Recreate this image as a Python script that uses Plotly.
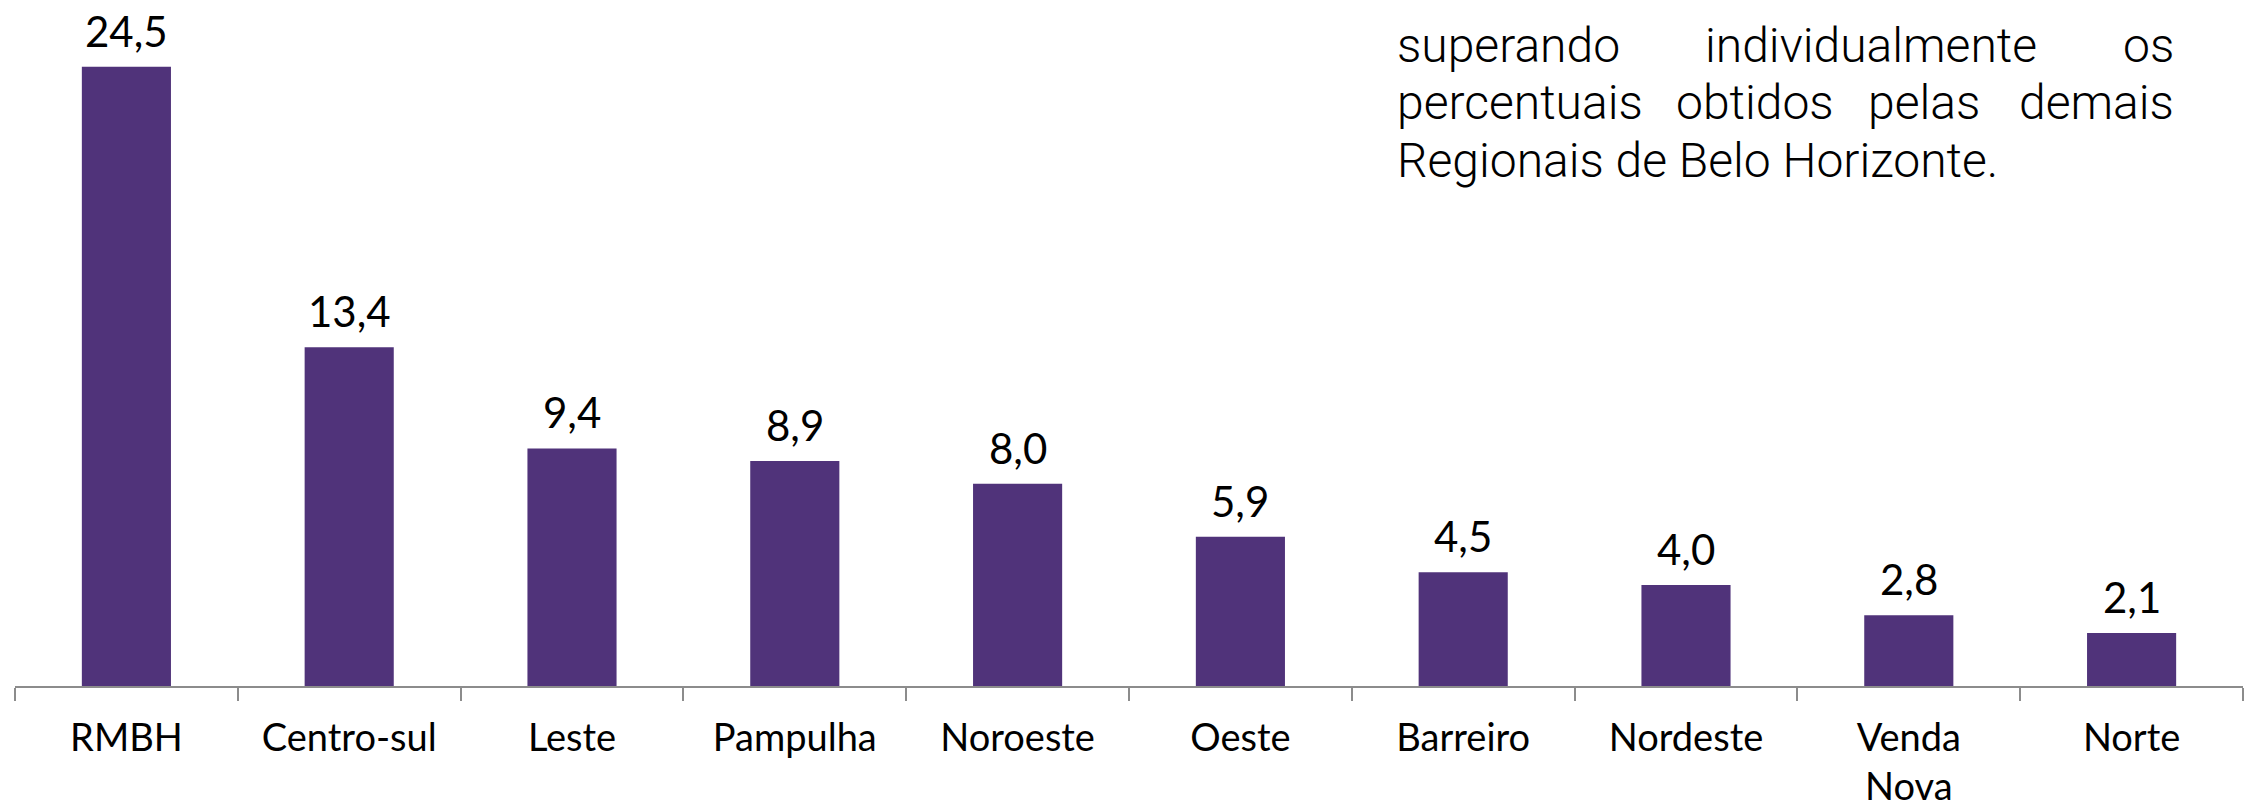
import plotly.graph_objects as go

categories = ["RMBH", "Centro-sul", "Leste", "Pampulha", "Noroeste", "Oeste",
              "Barreiro", "Nordeste", "Venda<br>Nova", "Norte"]
values = [24.5, 13.4, 9.4, 8.9, 8.0, 5.9, 4.5, 4.0, 2.8, 2.1]
value_labels = [f"{v:.1f}".replace(".", ",") for v in values]

bar_color = "#50337A"
W, H = 2252, 810
ML, MR, MT, MB = 15, 9, 0, 124

fig = go.Figure(go.Bar(
    x=categories, y=values,
    marker=dict(color=bar_color, line=dict(width=0)),
    width=0.4,
    hoverinfo="skip",
))

pw = W - ML - MR
ph = H - MT - MB

def px_x(p):
    return (p - ML) / pw

def px_y(p):
    return (H - MB - p) / ph

annots = []
# value labels above bars
for c, v, t in zip(categories, values, value_labels):
    annots.append(dict(text=t, x=c, y=v, xref="x", yref="y", xanchor="center",
                       yanchor="bottom", yshift=9, showarrow=False,
                       font=dict(family="Lato", size=42, color="#000000")))

para_font = dict(family="Roboto", size=48, color="#000000", weight=300)
words = [
    ("superando", 1395, 57, "left"),
    ("individualmente", 1871, 57, "center"),
    ("os", 2176, 57, "right"),
    ("percentuais", 1395, 114, "left"),
    ("obtidos", 1755, 114, "center"),
    ("pelas", 1924, 114, "center"),
    ("demais", 2176, 114, "right"),
    ("Regionais de Belo Horizonte.", 1395, 172, "left"),
]
for t, x, y, a in words:
    annots.append(dict(text=t, x=px_x(x), y=px_y(y + 19), xref="paper", yref="paper",
                       xanchor=a, yanchor="bottom", showarrow=False, font=para_font))

fig.update_layout(
    width=W, height=H,
    margin=dict(l=ML, r=MR, t=MT, b=MB, autoexpand=False),
    plot_bgcolor="white", paper_bgcolor="white",
    showlegend=False,
    annotations=annots,
    xaxis=dict(
        showline=True, linecolor="#8C8C8C", linewidth=2,
        ticks="outside", tickson="boundaries", ticklen=13, tickwidth=2, tickcolor="#8C8C8C",
        tickfont=dict(family="Lato", size=38, color="#000000"),
        ticklabelstandoff=17,
        automargin=False,
        showgrid=False, zeroline=False,
    ),
    yaxis=dict(range=[0, 27.14], visible=False, showgrid=False, zeroline=False,
               automargin=False),
)

fig.write_html("out.html",
               config={"displayModeBar": False},
               post_script="document.body.style.margin='0';document.body.style.overflow='hidden';")
